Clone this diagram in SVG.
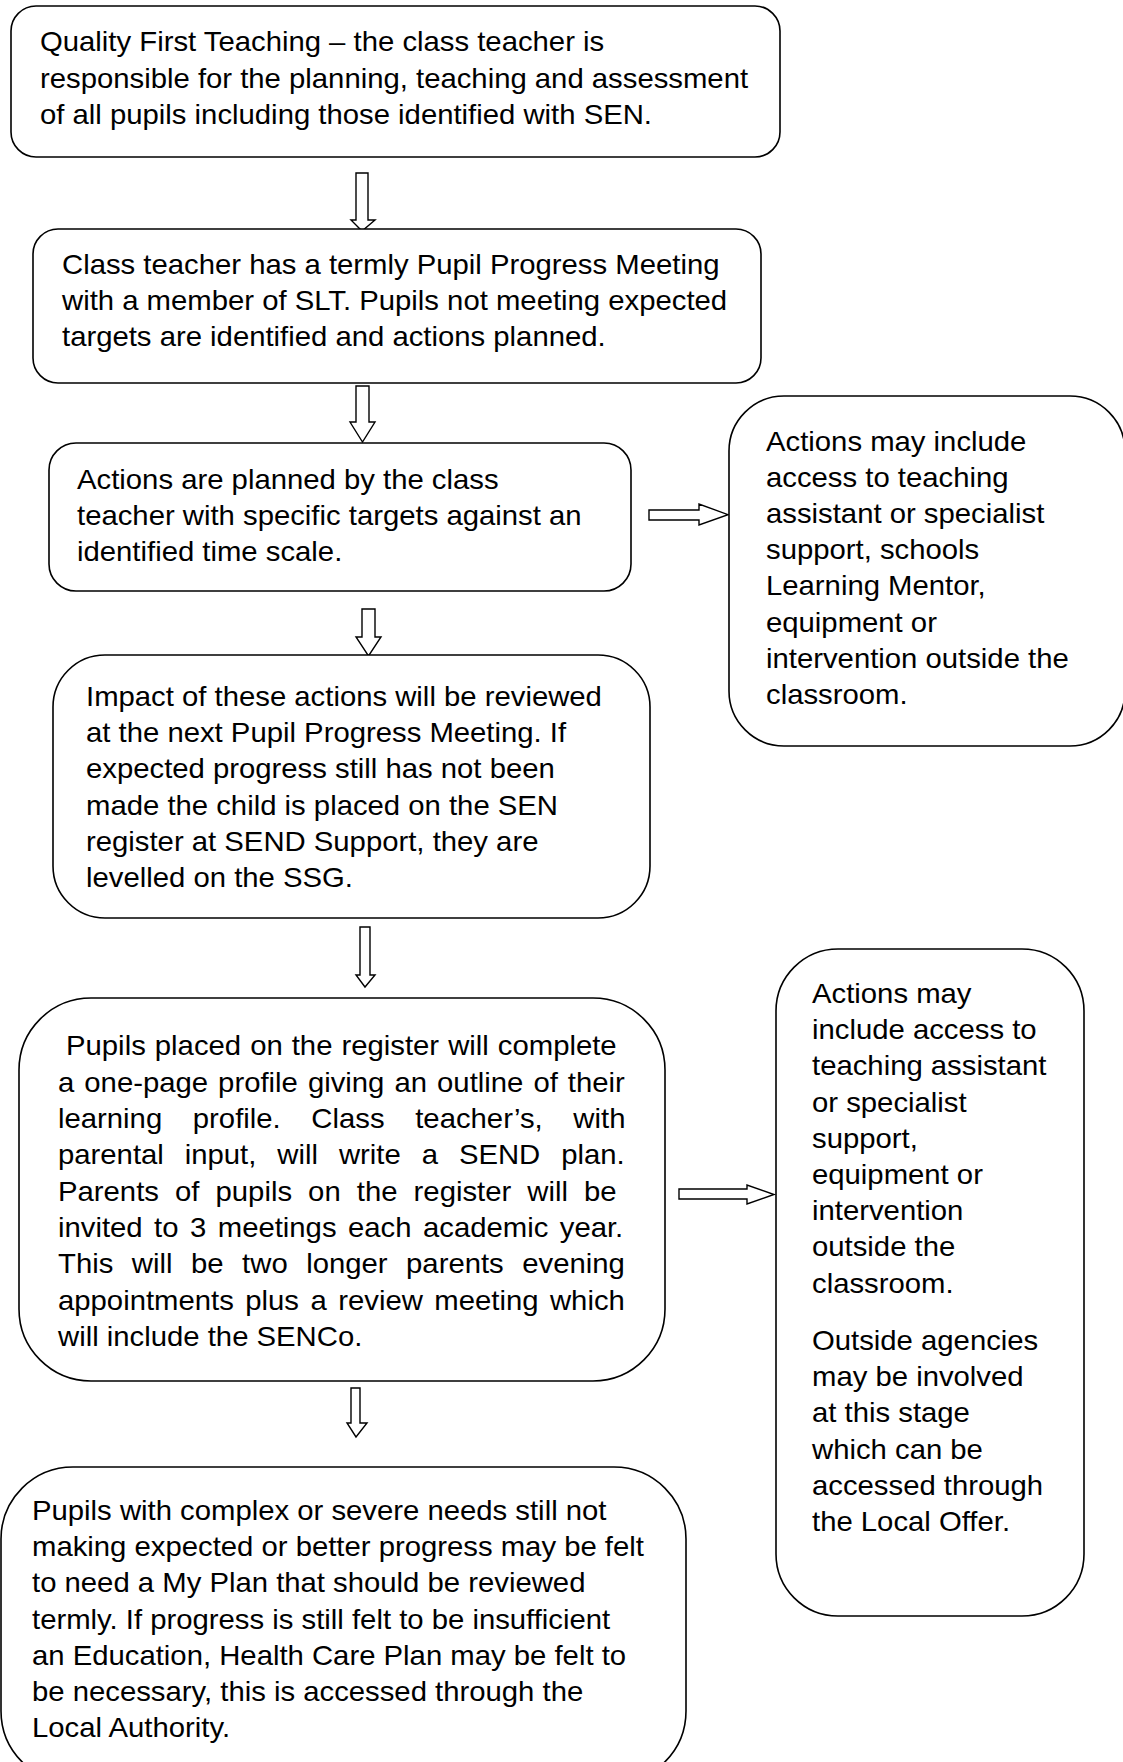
<svg xmlns="http://www.w3.org/2000/svg" width="1123" height="1762" viewBox="0 0 1123 1762">
<style>
.box{fill:#fff;stroke:#000;stroke-width:1.6}
.arr{fill:#fff;stroke:#000;stroke-width:1.4;stroke-linejoin:miter}
text{font-family:"Liberation Sans",Arial,Helvetica,sans-serif;font-size:27px;fill:#000}
</style>
<rect width="1123" height="1762" fill="#fff"/>
<g id="connectors">
<polygon class="arr" points="356,173 368,173 368,220 375,220 362,231 351,220 356,220"/>
<polygon class="arr" points="356,386 369,386 369,422 375,422 362.5,442 350,422 356,422"/>
<polygon class="arr" points="362,609 375,609 375,637 381,637 368.5,656 356,637 362,637"/>
<polygon class="arr" points="360,927 370,927 370,975 375,975 365,987 356,975 360,975"/>
<polygon class="arr" points="351,1388 360,1388 360,1423 367,1423 356,1437 347,1423 351,1423"/>
<polygon class="arr" points="649,510 699,510 699,504 728,514.7 699,525 699,520 649,520"/>
<polygon class="arr" points="679,1189 747,1189 747,1185 774,1194.5 747,1204 747,1199 679,1199"/>
</g>
<g id="n1">
<rect class="box" x="11" y="6" width="769" height="151" rx="25"/>
<g transform="translate(40,0) scale(1.085,1)"><text><tspan x="0" y="51.5">Quality First Teaching – the class teacher is</tspan><tspan x="0" y="87.7">responsible for the planning, teaching and assessment</tspan><tspan x="0" y="123.9">of all pupils including those identified with SEN.</tspan></text></g>
</g>
<g id="n2">
<rect class="box" x="33" y="229" width="728" height="154" rx="25"/>
<g transform="translate(62,0) scale(1.085,1)"><text><tspan x="0" y="274">Class teacher has a termly Pupil Progress Meeting</tspan><tspan x="0" y="310.2">with a member of SLT. Pupils not meeting expected</tspan><tspan x="0" y="346.4">targets are identified and actions planned.</tspan></text></g>
</g>
<g id="n3">
<rect class="box" x="49" y="443" width="582" height="148" rx="27"/>
<g transform="translate(77,0) scale(1.085,1)"><text><tspan x="0" y="489">Actions are planned by the class</tspan><tspan x="0" y="525.2">teacher with specific targets against an</tspan><tspan x="0" y="561.4">identified time scale.</tspan></text></g>
</g>
<g id="n4">
<rect class="box" x="729" y="396" width="396" height="350" rx="55"/>
<g transform="translate(766,0) scale(1.085,1)"><text><tspan x="0" y="450.6">Actions may include</tspan><tspan x="0" y="486.8">access to teaching</tspan><tspan x="0" y="523">assistant or specialist</tspan><tspan x="0" y="559.2">support, schools</tspan><tspan x="0" y="595.4">Learning Mentor,</tspan><tspan x="0" y="631.6">equipment or</tspan><tspan x="0" y="667.8">intervention outside the</tspan><tspan x="0" y="704">classroom.</tspan></text></g>
</g>
<g id="n5">
<rect class="box" x="53" y="655" width="597" height="263" rx="52"/>
<g transform="translate(86,0) scale(1.085,1)"><text><tspan x="0" y="706">Impact of these actions will be reviewed</tspan><tspan x="0" y="742.2">at the next Pupil Progress Meeting. If</tspan><tspan x="0" y="778.4">expected progress still has not been</tspan><tspan x="0" y="814.6">made the child is placed on the SEN</tspan><tspan x="0" y="850.8">register at SEND Support, they are</tspan><tspan x="0" y="887">levelled on the SSG.</tspan></text></g>
</g>
<g id="n6">
<rect class="box" x="19" y="998" width="646" height="383" rx="72"/>
<g transform="translate(58,0) scale(1.085,1)">
<text x="7.4" y="1055.5" word-spacing="0.83">Pupils placed on the register will complete</text>
<text x="0" y="1091.8" word-spacing="1.76">a one-page profile giving an outline of their</text>
<text x="0" y="1128.1" word-spacing="20.75">learning profile. Class teacher’s, with</text>
<text x="0" y="1164.4" word-spacing="11.8">parental input, will write a SEND plan.</text>
<text x="0" y="1200.7" word-spacing="7.34">Parents of pupils on the register will be</text>
<text x="0" y="1237" word-spacing="3.07">invited to 3 meetings each academic year.</text>
<text x="0" y="1273.3" word-spacing="9.57">This will be two longer parents evening</text>
<text x="0" y="1309.6" word-spacing="3.08">appointments plus a review meeting which</text>
<text x="0" y="1345.9">will include the SENCo.</text>
</g>
</g>
<g id="n7">
<rect class="box" x="776" y="949" width="308" height="667" rx="62"/>
<g transform="translate(812,0) scale(1.085,1)"><text><tspan x="0" y="1003">Actions may</tspan><tspan x="0" y="1039.2">include access to</tspan><tspan x="0" y="1075.4">teaching assistant</tspan><tspan x="0" y="1111.6">or specialist</tspan><tspan x="0" y="1147.8">support,</tspan><tspan x="0" y="1184">equipment or</tspan><tspan x="0" y="1220.2">intervention</tspan><tspan x="0" y="1256.4">outside the</tspan><tspan x="0" y="1292.6">classroom.</tspan><tspan x="0" y="1350">Outside agencies</tspan><tspan x="0" y="1386.2">may be involved</tspan><tspan x="0" y="1422.4">at this stage</tspan><tspan x="0" y="1458.6">which can be</tspan><tspan x="0" y="1494.8">accessed through</tspan><tspan x="0" y="1531">the Local Offer.</tspan></text></g>
</g>
<g id="n8">
<rect class="box" x="1" y="1467" width="685" height="316" rx="72"/>
<g transform="translate(32,0) scale(1.085,1)"><text><tspan x="0" y="1520">Pupils with complex or severe needs still not</tspan><tspan x="0" y="1556.2">making expected or better progress may be felt</tspan><tspan x="0" y="1592.4">to need a My Plan that should be reviewed</tspan><tspan x="0" y="1628.6">termly. If progress is still felt to be insufficient</tspan><tspan x="0" y="1664.8">an Education, Health Care Plan may be felt to</tspan><tspan x="0" y="1701">be necessary, this is accessed through the</tspan><tspan x="0" y="1737.2">Local Authority.</tspan></text></g>
</g>
</svg>
